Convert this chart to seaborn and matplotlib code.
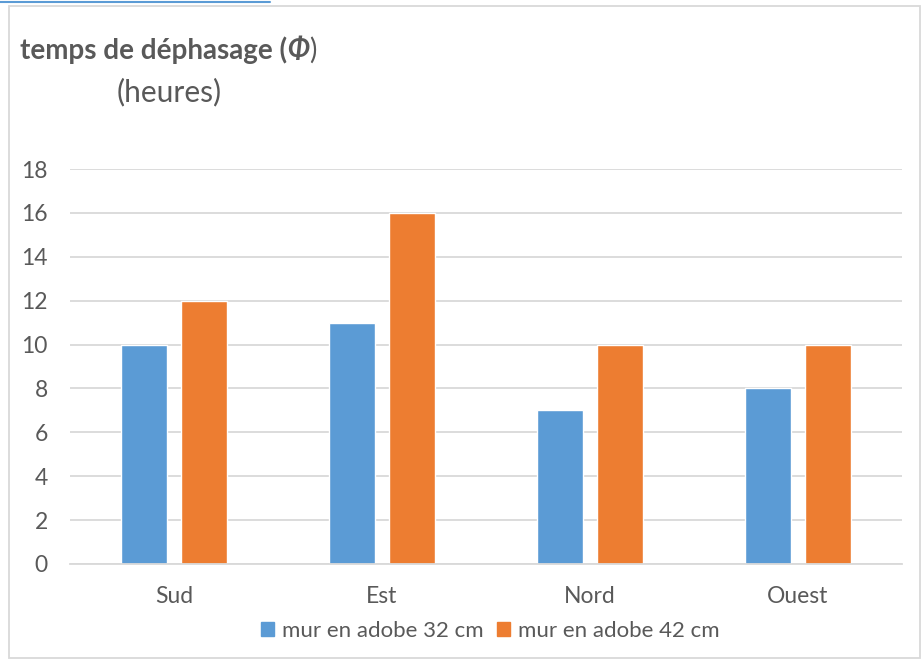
import pandas as pd
import matplotlib.pyplot as plt
import seaborn as sns
from matplotlib.patches import Rectangle
from matplotlib.lines import Line2D

# Data
orientations = ['Sud', 'Est', 'Nord', 'Ouest']
mur_32 = [10, 11, 7, 8]
mur_42 = [12, 16, 10, 10]
series_names = ['mur en adobe 32 cm', 'mur en adobe 42 cm']
colors = ['#5B9BD5', '#ED7D31']
yticks = [0, 2, 4, 6, 8, 10, 12, 14, 16, 18]

df = pd.DataFrame({
    'orientation': orientations * 2,
    'heures': mur_32 + mur_42,
    'serie': [series_names[0]] * 4 + [series_names[1]] * 4,
})

sns.set_style('white')
plt.rcParams['font.family'] = ['Lato', 'DejaVu Sans']
text_col = '#595959'

fig = plt.figure(figsize=(9.23, 6.63), dpi=100)
ax = fig.add_axes([70 / 923, 1 - 564 / 663, 832 / 923, 395 / 663])

sns.barplot(data=df, x='orientation', y='heures', hue='serie', palette=colors,
            width=0.577, gap=0.233, ax=ax, legend=False, saturation=1)

ax.set_xlim(-0.5, 3.5)
ax.set_ylim(0, 18)
ax.set_yticks(yticks)
ax.set_xlabel('')
ax.set_ylabel('')
ax.yaxis.grid(True, color='#D9D9D9', linewidth=1.3)
ax.set_axisbelow(True)
for s in ['top', 'right', 'left']:
    ax.spines[s].set_visible(False)
ax.spines['bottom'].set_color('#D9D9D9')
ax.spines['bottom'].set_linewidth(1.3)
ax.tick_params(axis='both', length=0, labelsize=16.5, colors=text_col)
ax.tick_params(axis='y', pad=16)
ax.tick_params(axis='x', pad=16)

# legend
handles = [Rectangle((0, 0), 1, 1, color=c) for c in colors]
fig.legend(handles, series_names, loc='center', bbox_to_anchor=(490 / 923, 1 - 631 / 663),
           ncol=2, frameon=False, fontsize=16, labelcolor=text_col,
           handlelength=0.6, handleheight=0.6, handletextpad=0.35, columnspacing=0.6)

# title pieces
fig.canvas.draw()
r = fig.canvas.get_renderer()
y_t = 1 - 50 / 663
t1 = fig.text(20 / 923, y_t, 'temps de déphasage (', fontsize=20, fontweight='bold',
              color=text_col, va='center')
bb = t1.get_window_extent(r)
t2 = fig.text(bb.x1 / 923, y_t, 'Φ', fontsize=20, fontweight='bold', style='italic',
              color=text_col, va='center')
bb2 = t2.get_window_extent(r)
fig.text(bb2.x1 / 923, y_t, ')', fontsize=20, color=text_col, va='center')
fig.text(117 / 923, 1 - 92 / 663, '(heures)', fontsize=21.5, color=text_col, va='center')

# chart frame and top selection line
fig.patches.append(Rectangle((9 / 923, 1 - 658 / 663), 911 / 923, 652 / 663,
                             transform=fig.transFigure, fill=False,
                             edgecolor='#D9D9D9', linewidth=1.3))
fig.lines.append(Line2D([0, 270 / 923], [1 - 2 / 663] * 2, transform=fig.transFigure,
                        color='#5B9BD5', linewidth=1.5))

plt.savefig('out.png', dpi=100)
